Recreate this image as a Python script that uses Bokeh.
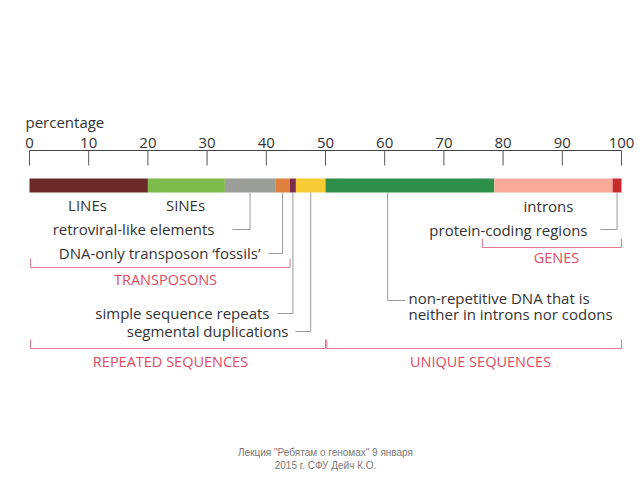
from bokeh.plotting import figure
from bokeh.models import Range1d, ColumnDataSource
from bokeh.core.properties import value
from bokeh.embed import file_html
from bokeh.resources import INLINE
import numpy as np

# ---- data ----
segments = ["LINEs", "SINEs", "retroviral-like elements", "DNA-only transposon 'fossils'",
            "simple sequence repeats", "segmental duplications",
            "non-repetitive DNA", "introns", "protein-coding regions"]
shares = [20, 13, 8.5, 2.5, 1, 5, 28.5, 20, 1.5]
colors = ["#6b2a2a", "#7cbb4c", "#9c9e9a", "#e0803e", "#7b2f4c", "#f8cc35",
          "#2e8f4b", "#f8a999", "#c62b2e"]
ticks = [0, 10, 20, 30, 40, 50, 60, 70, 80, 90, 100]
tick_labels = [str(t) for t in ticks]

FONT = "Open Sans"
TXT = "#333333"
RED = "#e04c62"
BRK = "#e8798b"
LEAD = "#9a9a9a"

right = np.cumsum(shares)
left = right - np.array(shares)
mid = (left + right) / 2

W, H = 636, 476

# pixel->percent helper for layout only
def P(px):
    return (px - 29) / 5.92

p = figure(width=W, height=H, x_range=Range1d(P(0), P(W)), y_range=Range1d(H, 0),
           output_backend="svg", toolbar_location=None, min_border=0,
           x_axis_location=None, y_axis_location=None, outline_line_color=None)
p.xgrid.visible = False
p.ygrid.visible = False

# axis
p.segment(x0=[ticks[0]], x1=[ticks[-1]], y0=[150], y1=[150], line_color="#444444", line_width=1.2)
p.segment(x0=ticks, x1=ticks, y0=[150] * len(ticks), y1=[165] * len(ticks), line_color="#555555", line_width=1)
p.text(x=ticks, y=[142] * len(ticks), text=tick_labels, text_align="center", text_baseline="middle",
       text_font=value(FONT), text_font_size="15px", text_color=TXT)
p.text(x=[P(25)], y=[121], text=["percentage"], text_align="left", text_baseline="middle",
       text_font=value(FONT), text_font_size="15px", text_color=TXT)

# bar
src = ColumnDataSource(dict(left=left, right=right, color=colors, y=[185] * len(shares)))
p.hbar(y="y", left="left", right="right", height=14, fill_color="color", line_color=None, source=src)

# leader lines
lx = [mid[2], mid[3], mid[4], mid[5], 60.5, mid[8]]
ly = [229, 253, 313, 331, 300, 229]
lend = [P(232), P(268), P(277), P(295), P(405), P(600)]
xs = [[a, a, e] for a, e in zip(lx, lend)]
ys = [[192, b, b] for b in ly]
p.multi_line(xs=xs, ys=ys, line_color=LEAD, line_width=1)

def label(x, y, t, align, color=TXT, size="15px"):
    p.text(x=[x], y=[y], text=[t], text_align=align, text_baseline="middle",
           text_font=value(FONT), text_font_size=size, text_color=color)

label(P(87), 204, "LINEs", "center")
label(P(185), 204, "SINEs", "center")
label(P(214), 228, "retroviral-like elements", "right")
label(P(260), 252, "DNA-only transposon \u2018fossils\u2019", "right")
label(P(269), 312, "simple sequence repeats", "right")
label(P(288), 330, "segmental duplications", "right")
label(P(548), 205, "introns", "center")
label(P(587), 229, "protein-coding regions", "right")
label(P(408), 297, "non-repetitive DNA that is", "left")
label(P(408), 313, "neither in introns nor codons", "left")

# brackets
def bracket(x0, x1, y, h=9):
    p.multi_line(xs=[[x0, x0, x1, x1]], ys=[[y - h, y, y, y - h]], line_color=BRK, line_width=1)

bracket(P(30), right[3], 267)
bracket(P(30), right[5], 348)
bracket(right[5] + 0.2, right[8], 348)
bracket(76.5, right[8], 247)

label(P(165), 279, "TRANSPOSONS", "center", RED, "14.5px")
label(P(170), 361, "REPEATED SEQUENCES", "center", RED, "14.5px")
label(P(480), 361, "UNIQUE SEQUENCES", "center", RED, "14.5px")
label(P(556), 257, "GENES", "center", RED, "14.5px")

# footer
p.text(x=[P(325), P(325)], y=[452, 465],
       text=["\u041b\u0435\u043a\u0446\u0438\u044f \"\u0420\u0435\u0431\u044f\u0442\u0430\u043c \u043e \u0433\u0435\u043d\u043e\u043c\u0430\u0445\" 9 \u044f\u043d\u0432\u0430\u0440\u044f",
             "2015 \u0433. \u0421\u0424\u0423 \u0414\u0435\u0439\u0447 \u041a.\u041e."],
       text_align="center", text_baseline="middle", text_font=value("Liberation Sans"),
       text_font_size="10px", text_color="#777777")

open("out.html", "w").write(file_html(p, INLINE))
